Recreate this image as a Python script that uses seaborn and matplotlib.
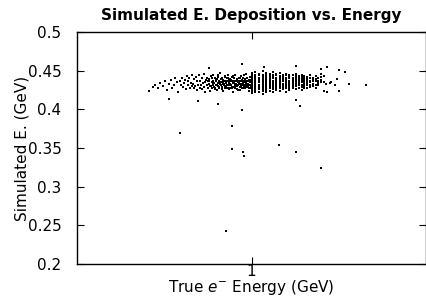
import numpy as np
import pandas as pd
import matplotlib
matplotlib.use("Agg")
import matplotlib.pyplot as plt
import seaborn as sns

# sparse events on the low energy side (GeV)
tail_e = [0.585, 0.595, 0.603, 0.612, 0.620, 0.628, 0.635, 0.641, 0.648, 0.655,
          0.660, 0.666, 0.671, 0.676, 0.681, 0.686, 0.690, 0.694, 0.698, 0.702,
          0.706, 0.709, 0.712, 0.715, 0.718, 0.721, 0.724, 0.727, 0.730, 0.733]
tail_d = [0.424, 0.429, 0.432, 0.427, 0.434, 0.430, 0.436, 0.425, 0.433, 0.438,
          0.428, 0.431, 0.440, 0.435, 0.423, 0.437, 0.432, 0.441, 0.429, 0.434,
          0.438, 0.426, 0.443, 0.431, 0.436, 0.440, 0.428, 0.434, 0.445, 0.430]

# dense core below 1 GeV
core_e = [0.735, 0.738, 0.741, 0.744, 0.747, 0.750, 0.753, 0.756, 0.759, 0.762,
          0.764, 0.767, 0.770, 0.772, 0.775, 0.778, 0.780, 0.783, 0.785, 0.788,
          0.790, 0.792, 0.795, 0.797, 0.799, 0.802, 0.804, 0.806, 0.808, 0.811,
          0.813, 0.815, 0.817, 0.819, 0.821, 0.823, 0.825, 0.827, 0.829, 0.831,
          0.833, 0.835, 0.837, 0.839, 0.841, 0.843, 0.845, 0.847, 0.849, 0.851,
          0.853, 0.855, 0.857, 0.859, 0.861, 0.863, 0.865, 0.867, 0.869, 0.871,
          0.873, 0.875, 0.877, 0.879, 0.881, 0.883, 0.885, 0.887, 0.889, 0.891,
          0.893, 0.895, 0.897, 0.899, 0.901, 0.903, 0.905, 0.907, 0.909, 0.911,
          0.913, 0.915, 0.917, 0.919, 0.921, 0.923, 0.925, 0.927, 0.929, 0.931,
          0.933, 0.935, 0.937, 0.939, 0.941, 0.943, 0.945, 0.947, 0.949, 0.951,
          0.953, 0.955, 0.957, 0.959, 0.961, 0.963, 0.965, 0.967, 0.969, 0.971,
          0.973, 0.975, 0.977, 0.979, 0.981, 0.983, 0.985, 0.987, 0.989, 0.991,
          0.993, 0.995, 0.997, 0.999]
core_d = [0.433, 0.427, 0.439, 0.430, 0.442, 0.425, 0.436, 0.431, 0.444, 0.428,
          0.437, 0.432, 0.426, 0.440, 0.434, 0.429, 0.446, 0.435, 0.423, 0.438,
          0.431, 0.441, 0.427, 0.436, 0.433, 0.439, 0.424, 0.430, 0.443, 0.435,
          0.428, 0.437, 0.432, 0.445, 0.429, 0.434, 0.440, 0.426, 0.436, 0.431,
          0.439, 0.425, 0.434, 0.430, 0.442, 0.437, 0.428, 0.433, 0.447, 0.432,
          0.435, 0.429, 0.441, 0.433, 0.424, 0.438, 0.431, 0.436, 0.427, 0.443,
          0.430, 0.437, 0.434, 0.428, 0.440, 0.432, 0.445, 0.426, 0.435, 0.439,
          0.433, 0.427, 0.438, 0.431, 0.436, 0.442, 0.429, 0.434, 0.423, 0.440,
          0.437, 0.431, 0.428, 0.444, 0.433, 0.436, 0.430, 0.439, 0.426, 0.435,
          0.432, 0.440, 0.434, 0.429, 0.437, 0.425, 0.443, 0.431, 0.438, 0.433,
          0.428, 0.436, 0.441, 0.432, 0.435, 0.430, 0.439, 0.427, 0.446, 0.434,
          0.437, 0.431, 0.433, 0.440, 0.429, 0.436, 0.424, 0.438, 0.432, 0.442,
          0.435, 0.430, 0.438, 0.427]

core2_e = [0.801, 0.807, 0.812, 0.818, 0.824, 0.829, 0.834, 0.838, 0.842, 0.846,
           0.850, 0.854, 0.858, 0.862, 0.866, 0.870, 0.874, 0.878, 0.882, 0.886,
           0.890, 0.894, 0.898, 0.902, 0.906, 0.910, 0.914, 0.918, 0.922, 0.926,
           0.930, 0.934, 0.938, 0.942, 0.946, 0.950, 0.954, 0.958, 0.962, 0.966,
           0.970, 0.974, 0.978, 0.982, 0.986, 0.990, 0.994, 0.998, 0.860, 0.880,
           0.900, 0.920, 0.940, 0.960, 0.980, 0.870, 0.890, 0.910, 0.930, 0.950]
core2_d = [0.436, 0.430, 0.441, 0.434, 0.428, 0.438, 0.432, 0.445, 0.429, 0.435,
           0.431, 0.439, 0.426, 0.437, 0.433, 0.442, 0.430, 0.436, 0.428, 0.440,
           0.434, 0.431, 0.438, 0.427, 0.443, 0.435, 0.429, 0.437, 0.432, 0.439,
           0.425, 0.436, 0.433, 0.441, 0.430, 0.437, 0.428, 0.434, 0.444, 0.431,
           0.436, 0.429, 0.440, 0.433, 0.427, 0.438, 0.432, 0.435, 0.434, 0.432,
           0.436, 0.430, 0.433, 0.437, 0.431, 0.429, 0.438, 0.434, 0.436, 0.432]

# discrete energies above 1 GeV, deposits per column
col_e = [1.00, 1.02, 1.04, 1.06, 1.08, 1.10, 1.12, 1.14, 1.16, 1.18, 1.20, 1.22,
         1.24, 1.26, 1.28, 1.30, 1.32, 1.34, 1.36, 1.38, 1.40, 1.42, 1.44]
col_d = [
    [0.447, 0.444, 0.442, 0.440, 0.438, 0.437, 0.435, 0.433, 0.432, 0.430, 0.428, 0.426, 0.424, 0.421],
    [0.448, 0.445, 0.443, 0.441, 0.439, 0.436, 0.434, 0.433, 0.431, 0.429, 0.427, 0.425, 0.422],
    [0.446, 0.444, 0.441, 0.440, 0.438, 0.436, 0.435, 0.432, 0.430, 0.428, 0.426, 0.423],
    [0.449, 0.445, 0.443, 0.440, 0.439, 0.437, 0.434, 0.433, 0.431, 0.429, 0.426, 0.424, 0.420],
    [0.447, 0.444, 0.442, 0.439, 0.437, 0.436, 0.434, 0.431, 0.430, 0.427, 0.425, 0.422],
    [0.446, 0.443, 0.441, 0.439, 0.438, 0.435, 0.433, 0.432, 0.429, 0.427, 0.424],
    [0.448, 0.445, 0.442, 0.440, 0.437, 0.436, 0.434, 0.431, 0.429, 0.426, 0.423],
    [0.446, 0.444, 0.441, 0.439, 0.437, 0.434, 0.432, 0.430, 0.428, 0.425],
    [0.447, 0.443, 0.441, 0.438, 0.436, 0.435, 0.433, 0.430, 0.427, 0.424],
    [0.445, 0.443, 0.440, 0.438, 0.436, 0.433, 0.431, 0.429, 0.426],
    [0.446, 0.444, 0.441, 0.439, 0.436, 0.434, 0.432, 0.429, 0.427, 0.423],
    [0.445, 0.442, 0.440, 0.437, 0.435, 0.433, 0.430, 0.428, 0.425],
    [0.444, 0.441, 0.439, 0.437, 0.434, 0.432, 0.429, 0.427],
    [0.446, 0.443, 0.440, 0.438, 0.435, 0.433, 0.430, 0.426],
    [0.443, 0.441, 0.438, 0.436, 0.434, 0.431, 0.428],
    [0.445, 0.442, 0.439, 0.437, 0.435, 0.432, 0.429, 0.425],
    [0.443, 0.440, 0.438, 0.435, 0.433, 0.430, 0.427],
    [0.442, 0.439, 0.437, 0.434, 0.431, 0.428],
    [0.444, 0.440, 0.437, 0.435, 0.432, 0.429],
    [0.441, 0.438, 0.436, 0.433, 0.430],
    [0.443, 0.439, 0.436, 0.432, 0.428],
    [0.440, 0.437, 0.434, 0.431],
    [0.442, 0.438, 0.435],
]

# sparse events on the high energy side
right_e = [1.443, 1.489, 1.579, 1.632, 1.443, 1.466, 1.466, 1.481, 1.513, 1.521,
           1.546, 1.562, 1.669, 1.826, 1.466, 1.489, 1.579, 1.443]
right_d = [0.452, 0.455, 0.451, 0.448, 0.446, 0.443, 0.435, 0.433, 0.434, 0.435,
           0.432, 0.439, 0.433, 0.432, 0.424, 0.422, 0.424, 0.438]

# stray events above and below the band
stray_e = [0.647, 0.754, 0.841, 0.949, 0.901, 0.686, 0.901, 0.954, 0.959, 1.266,
           1.292, 1.158, 1.266, 1.443, 0.873, 0.949, 1.065, 1.266, 0.800]
stray_d = [0.413, 0.411, 0.407, 0.3995, 0.378, 0.370, 0.349, 0.345, 0.340, 0.412,
           0.404, 0.354, 0.345, 0.324, 0.243, 0.4586, 0.455, 0.456, 0.4535]

energy = tail_e + core_e + core2_e + right_e + stray_e
edep = tail_d + core_d + core2_d + right_d + stray_d
for e, ds in zip(col_e, col_d):
    energy += [e] * len(ds)
    edep += ds

df = pd.DataFrame({"energy": energy, "edep": edep})

sns.set_style("ticks")
plt.rcParams["font.family"] = ["DejaVu Sans"]
plt.rcParams["text.color"] = "black"
plt.rcParams["axes.labelcolor"] = "black"
plt.rcParams["mathtext.fontset"] = "custom"
plt.rcParams["mathtext.rm"] = "DejaVu Sans"
plt.rcParams["mathtext.it"] = "DejaVu Sans:italic"

fig = plt.figure(figsize=(4.27, 3.02), dpi=100)
ax = fig.add_axes([0.180, 0.126, 0.818, 0.768])

sns.scatterplot(data=df, x="energy", y="edep", ax=ax, color="black",
                marker="s", s=2.2, linewidth=0, legend=False)

ax.set_xscale("log")
ax.set_xlim(0.4, 2.5)
ax.set_ylim(0.2, 0.5)
ax.set_xticks([1])
ax.set_xticklabels(["1"])
ax.minorticks_off()
ax.set_yticks([0.2, 0.25, 0.3, 0.35, 0.4, 0.45, 0.5])
ax.set_yticklabels(["0.2", "0.25", "0.3", "0.35", "0.4", "0.45", "0.5"])
ax.tick_params(direction="in", length=5, width=0.8, top=True, right=True,
               labelsize=11, colors="black")
ax.tick_params(axis="y", pad=11)
ax.tick_params(axis="x", pad=0)
for sp in ax.spines.values():
    sp.set_linewidth(1.0)
    sp.set_color("black")

ax.set_title("Simulated E. Deposition vs. Energy", fontsize=11,
             fontweight="bold", pad=9, color="black")
ax.set_xlabel("True $e^{-}$ Energy (GeV)", fontsize=11, labelpad=-1)
ax.set_ylabel("Simulated E. (GeV)", fontsize=11, labelpad=-1)

fig.savefig("out.png", dpi=100)
